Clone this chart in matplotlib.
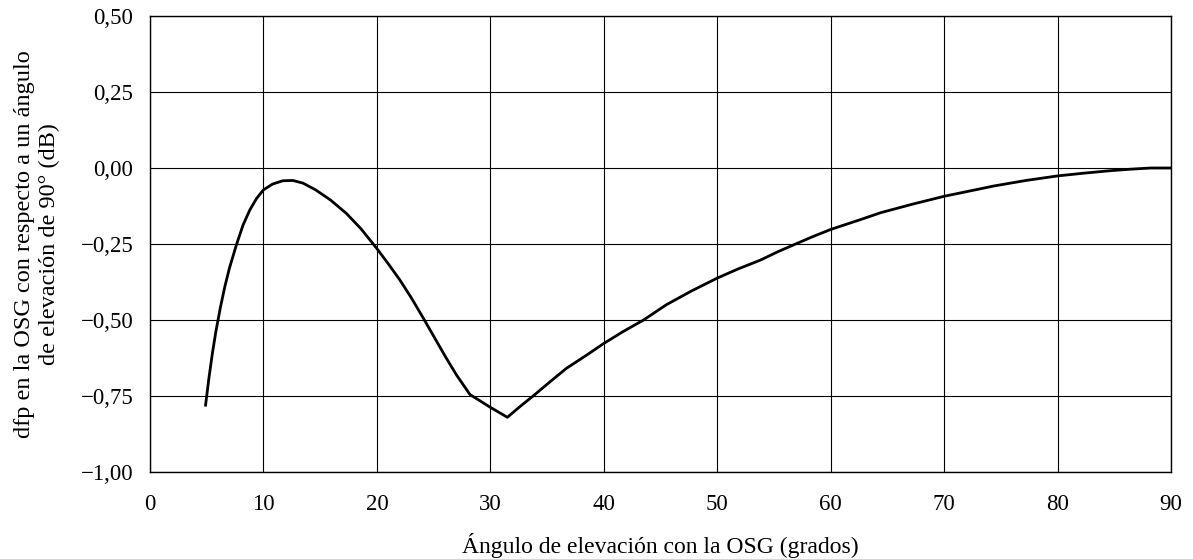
import numpy as np
import matplotlib.pyplot as plt
from matplotlib.ticker import FuncFormatter

plt.rcParams['font.family'] = ['Liberation Serif', 'DejaVu Serif']

# curva
angulo = [4.9, 5.2, 5.5, 5.8, 6.2, 6.6, 7.0, 7.6, 8.2, 8.8, 9.4, 10.0, 10.8, 11.7,
          12.6, 13.5, 14.6, 15.9, 17.3, 18.6, 20.0, 21.0, 22.0, 23.0, 24.0, 25.0,
          26.0, 27.0, 28.2, 29.9, 31.5, 32.6, 33.8, 35.2, 36.7, 38.3, 40.0, 41.7,
          43.5, 45.5, 47.7, 50.0, 51.9, 53.8, 55.3, 56.9, 58.4, 60.0, 62.6, 64.4,
          67.2, 70.0, 72.2, 74.4, 77.2, 80.0, 82.3, 84.6, 86.4, 88.2, 90.0]
dfp = [-0.78, -0.69, -0.61, -0.54, -0.46, -0.39, -0.33, -0.255, -0.188, -0.138,
       -0.100, -0.072, -0.053, -0.042, -0.041, -0.050, -0.072, -0.105, -0.149,
       -0.200, -0.265, -0.315, -0.367, -0.425, -0.488, -0.553, -0.618, -0.680,
       -0.745, -0.785, -0.82, -0.785, -0.749, -0.705, -0.659, -0.620, -0.577,
       -0.538, -0.500, -0.450, -0.405, -0.362, -0.331, -0.303, -0.276, -0.250,
       -0.226, -0.202, -0.170, -0.147, -0.119, -0.093, -0.076, -0.059, -0.041,
       -0.026, -0.017, -0.009, -0.004, 0.0, 0.0]

xticks = np.arange(0, 91, 10)
yticks = [-1.0, -0.75, -0.5, -0.25, 0.0, 0.25, 0.5]

fig = plt.figure(figsize=(11.93, 5.59), dpi=100)
ax = fig.add_axes([0.1257, 0.1556, 0.856, 0.8158])

ax.plot(angulo, dfp, color='black', lw=2.0)

ax.set_xlim(0, 90)
ax.set_ylim(-1.0, 0.5)
ax.set_xticks(xticks)
ax.set_yticks(yticks)
ax.yaxis.set_major_formatter(FuncFormatter(lambda v, p: f"{v:.2f}".replace('.', ',').replace('-', '\u2212')))
ax.grid(True, color='black', lw=0.8)
ax.tick_params(length=0, labelsize=16.5)
ax.tick_params(axis='y', pad=12)
ax.tick_params(axis='x', pad=16)
for s in ax.spines.values():
    s.set_linewidth(1.0)

ax.set_xlabel('Ángulo de elevación con la OSG (grados)', fontsize=17, labelpad=13)
ax.set_ylabel('dfp en la OSG con respecto a un ángulo\nde elevación de 90° (dB)', fontsize=17.5, labelpad=15)

fig.savefig('out.png', dpi=100)
